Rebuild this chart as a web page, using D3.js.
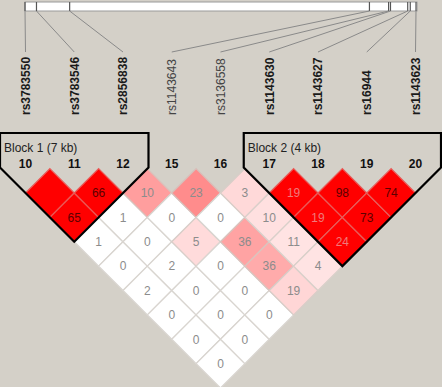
<!DOCTYPE html>
<html><head><meta charset="utf-8">
<script src="https://cdn.jsdelivr.net/npm/d3@7/dist/d3.min.js"></script>
<style>body{margin:0;background:#d4d0c8;overflow:hidden} svg{display:block;}</style>
</head><body><svg id="c" width="442" height="387"></svg>
<script>
// ---- data ----
const snpNames = ["rs3783550","rs3783546","rs2856838","rs1143643","rs3136558","rs1143630","rs1143627","rs16944","rs1143623"];
const snpNumbers = ["10","11","12","15","16","17","18","19","20"];
const snpPositionsKb = [0, 1.8, 7.0, 54.0, 57.0, 57.3, 60.0, 60.4, 61.3];
const snpBold = [true, true, true, false, false, true, true, true, true];
// numbers shown in the cells (row = first SNP, column = second SNP); null = blank
const ldNumbers = [
  [null, null, 65, 1, 0, 2, 0, 0, 0],
  [null, null, 66, 1, 0, 2, 0, 0, 0],
  [null, null, null, 10, 0, 5, 0, 0, 0],
  [null, null, null, null, 23, 0, 36, 36, 19],
  [null, null, null, null, null, 3, 10, 11, 4],
  [null, null, null, null, null, null, 19, 19, 24],
  [null, null, null, null, null, null, null, 98, 73],
  [null, null, null, null, null, null, null, null, 74]
];
// shading strength of each cell (0 = white, 1 = full red)
const ldShade = [
  [null, 1, 1, 0, 0, 0, 0, 0, 0],
  [null, null, 1, 0, 0, 0, 0, 0, 0],
  [null, null, null, 0.38, 0, 0.14, 0, 0, 0],
  [null, null, null, null, 0.45, 0, 0.36, 0.33, 0.16],
  [null, null, null, null, null, 0.15, 0.12, 0.11, 0.11],
  [null, null, null, null, null, null, 1, 1, 1],
  [null, null, null, null, null, null, null, 1, 1],
  [null, null, null, null, null, null, null, null, 1]
];
const blocks = [
  {label: "Block 1 (7 kb)", from: 0, to: 2},
  {label: "Block 2 (4 kb)", from: 5, to: 8}
];

// ---- drawing ----
const svg = d3.select("#c");
const W = 442, H = 387;
svg.append("rect").attr("width", W).attr("height", H).attr("fill", "#d4d0c8");

const x = d3.scalePoint().domain(d3.range(snpNames.length)).range([25.5, 415.5]);
const step = x.step();
const h = step / 2;
const yRow = d3.scaleLinear().domain([1, 8]).range([193, 193 + 7 * h]);
const pos = d3.scaleLinear().domain([0, d3.max(snpPositionsKb)]).range([25, 416]);
const shadeColor = d3.interpolateRgb("#ffffff", "#ff0000");

// top track
const barTop = 2, barBot = 11;
svg.append("rect").attr("x", pos(0)).attr("y", barTop).attr("width", pos(d3.max(snpPositionsKb)) - pos(0) + 1)
  .attr("height", barBot - barTop).attr("fill", "#ffffff").attr("stroke", "#9a9a9a").attr("stroke-width", 1);
svg.selectAll("line.tick").data(snpPositionsKb).join("line").attr("class", "tick")
  .attr("x1", d => pos(d)).attr("x2", d => pos(d)).attr("y1", barTop).attr("y2", barBot)
  .attr("stroke", "#555").attr("stroke-width", 1.2);
svg.selectAll("line.conn").data(snpPositionsKb).join("line").attr("class", "conn")
  .attr("x1", d => pos(d)).attr("y1", barBot).attr("x2", (d, i) => x(i)).attr("y2", 52)
  .attr("stroke", "#8a8a8a").attr("stroke-width", 1);

// SNP names
svg.selectAll("text.snp").data(snpNames).join("text").attr("class", "snp")
  .attr("transform", (d, i) => `translate(${x(i)},115) rotate(-90)`)
  .attr("dy", "0.36em")
  .attr("font-family", "Liberation Sans, Arial, sans-serif").attr("font-size", 12)
  .attr("font-weight", (d, i) => snpBold[i] ? "bold" : "normal")
  .attr("fill", (d, i) => snpBold[i] ? "#1a1a1a" : "#444")
  .text(d => d);

// cells
const cells = [];
for (let i = 0; i < snpNames.length; i++)
  for (let j = i + 1; j < snpNames.length; j++)
    cells.push({i, j, k: j - i, val: ldNumbers[i][j], shade: ldShade[i][j]});

const cellG = svg.append("g");
cellG.selectAll("path").data(cells).join("path")
  .attr("d", c => {
    const cx = (x(c.i) + x(c.j)) / 2, cy = yRow(c.k);
    return `M${cx},${cy - h}L${cx + h},${cy}L${cx},${cy + h}L${cx - h},${cy}Z`;
  })
  .attr("fill", c => shadeColor(c.shade))
  .attr("stroke", c => d3.interpolateRgb(shadeColor(c.shade), "#cfcbc4")(c.shade > 0.9 ? 0.45 : 0.8))
  .attr("stroke-width", 1.3);

cellG.selectAll("text").data(cells.filter(c => c.val !== null)).join("text")
  .attr("x", c => (x(c.i) + x(c.j)) / 2).attr("y", c => yRow(c.k)).attr("dy", "0.36em")
  .attr("text-anchor", "middle")
  .attr("font-family", "Liberation Sans, Arial, sans-serif").attr("font-size", 12)
  .attr("fill", c => c.shade > 0.9 ? (c.val >= 50 ? "#5c0000" : "#f07a7a") : "#8c8c8c")
  .text(c => c.val);

// blocks
const d = 25.5;
blocks.forEach(b => {
  const xa = x(b.from), xb = x(b.to);
  const y0 = yRow(1);
  const pts = [
    [xa - d, y0 - d], [xa - d, 133], [xb + d, 133], [xb + d, y0 - d],
    [(xa + xb) / 2, y0 + (xb - xa) / 2]
  ];
  svg.append("path").attr("d", d3.line()(pts) + "Z")
    .attr("fill", "none").attr("stroke", "#000").attr("stroke-width", 2.2).attr("stroke-linejoin", "miter");
  svg.append("text").attr("x", xa - d + 4).attr("y", 152)
    .attr("font-family", "Liberation Sans, Arial, sans-serif").attr("font-size", 12)
    .attr("fill", "#222").text(b.label);
});

// SNP numbers
svg.selectAll("text.num").data(snpNumbers).join("text").attr("class", "num")
  .attr("x", (dd, i) => x(i)).attr("y", 168).attr("text-anchor", "middle")
  .attr("font-family", "Liberation Sans, Arial, sans-serif").attr("font-size", 12).attr("font-weight", "bold")
  .attr("fill", "#111").text(dd => dd);
</script></body></html>
